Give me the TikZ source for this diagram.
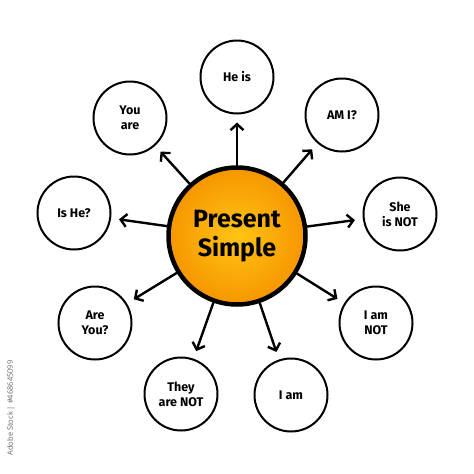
\documentclass[tikz,border=0pt]{standalone}
\usepackage{fontspec}
\setmainfont{Fira Sans}
\newfontfamily\wmfont{Open Sans}
\usetikzlibrary{arrows.meta,shadings}
\definecolor{orin}{RGB}{255,196,20}
\definecolor{orout}{RGB}{246,150,0}
\tikzset{
  outer/.style={circle,draw=black,line width=2pt,minimum size=73pt,inner sep=0pt,align=center,
    font=\fontsize{12.5}{15}\selectfont\bfseries},
  maincirc/.style={circle,draw=black,line width=4.5pt,minimum size=137pt,inner sep=0pt,align=center,
    inner color=orin,outer color=orout,
    font=\fontsize{25}{29}\selectfont\bfseries},
  arr/.style={line width=2.4pt,-{Straight Barb[length=6pt,width=13pt,line width=2.4pt]},shorten >=8pt,line cap=round}
}
\begin{document}
\begin{tikzpicture}[x=1pt,y=-1pt]
\useasboundingbox (0,0) rectangle (474,474);
\fill[white] (0,0) rectangle (474,474);
\node[maincirc] (c) at (237,236) {Present\\Simple};
\node[outer] (he) at (237,77) {He is};
\node[outer] (you) at (130,118) {You\\are};
\node[outer] (ami) at (342,115) {AM I?};
\node[outer] (she) at (400,214) {She\\is NOT};
\node[outer] (ishe) at (74,213) {Is He?};
\node[outer] (areyou) at (95,323) {Are\\You?};
\node[outer] (they) at (181,394) {They\\are NOT};
\node[outer] (iam) at (291,395) {I am};
\node[outer] (iamnot) at (376,323) {I am\\NOT};
\foreach \n in {he,you,ami,she,ishe,areyou,they,iam,iamnot}
  \draw[arr] (c) -- (\n);
\node[rotate=90,text=black!60,font=\wmfont\fontsize{7.5}{8}\selectfont,inner sep=0pt] (wm) at (11,408) {Adobe Stock | \#468645099};
\end{tikzpicture}
\end{document}
